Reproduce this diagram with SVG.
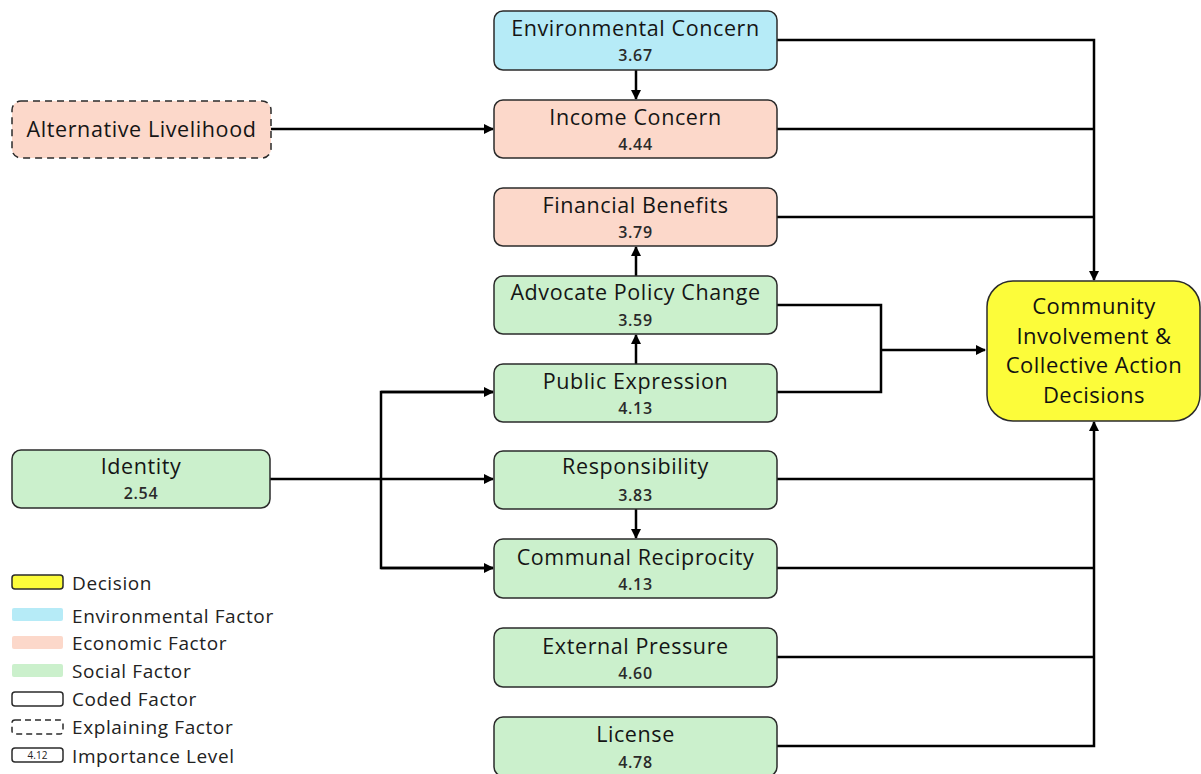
<svg xmlns="http://www.w3.org/2000/svg" width="1201" height="774" viewBox="0 0 1201 774">
<style>
.box{stroke:#2b2b2b;stroke-width:1.5}
.env{fill:#b6ebf7}
.eco{fill:#fcd8ca}
.soc{fill:#cbf0cc}
.dec{fill:#fcfc3a}
.dash{stroke-dasharray:7 5}
.t{font-family:"Open Sans","Liberation Sans",sans-serif;font-size:21.5px;letter-spacing:0.6px;fill:#151515;text-anchor:middle}
.v{font-family:"Open Sans","Liberation Sans",sans-serif;font-size:16px;letter-spacing:0.7px;font-weight:600;fill:#2a2a2a;text-anchor:middle}
.d{font-family:"Open Sans","Liberation Sans",sans-serif;font-size:22px;letter-spacing:0.5px;font-weight:500;fill:#111;text-anchor:middle}
.lg{font-family:"Open Sans","Liberation Sans",sans-serif;font-size:19px;letter-spacing:0.6px;fill:#222}
.c{fill:none;stroke:#000;stroke-width:2.5}
</style>
<defs>
<marker id="ah" viewBox="0 0 10 10" refX="9" refY="5" markerWidth="4" markerHeight="4" orient="auto" markerUnits="strokeWidth">
<path d="M0,0 L10,5 L0,10 z" fill="#000"/>
</marker>
</defs>

<g id="connectors">
<polyline class="c" points="777,40 1094,40 1094,280" marker-end="url(#ah)"/>
<line class="c" x1="777" y1="129" x2="1094" y2="129"/>
<line class="c" x1="777" y1="217" x2="1094" y2="217"/>
<polyline class="c" points="777,746 1094,746 1094,422" marker-end="url(#ah)"/>
<line class="c" x1="777" y1="479" x2="1094" y2="479"/>
<line class="c" x1="777" y1="568" x2="1094" y2="568"/>
<line class="c" x1="777" y1="657" x2="1094" y2="657"/>
<polyline class="c" points="777,305 881,305 881,392 777,392"/>
<line class="c" x1="881" y1="350" x2="985" y2="350" marker-end="url(#ah)"/>
<line class="c" x1="271" y1="129" x2="493" y2="129" marker-end="url(#ah)"/>
<line class="c" x1="270" y1="479" x2="493" y2="479" marker-end="url(#ah)"/>
<polyline class="c" points="493,392 381,392 381,568 493,568"/>
<line class="c" x1="381" y1="392" x2="493" y2="392" marker-end="url(#ah)"/>
<line class="c" x1="381" y1="568" x2="493" y2="568" marker-end="url(#ah)"/>
<line class="c" x1="636" y1="70" x2="636" y2="99" marker-end="url(#ah)"/>
<line class="c" x1="636" y1="276" x2="636" y2="247" marker-end="url(#ah)"/>
<line class="c" x1="636" y1="364" x2="636" y2="335" marker-end="url(#ah)"/>
<line class="c" x1="636" y1="509" x2="636" y2="538" marker-end="url(#ah)"/>
</g>

<g id="environmental-concern">
<rect class="box env" x="494" y="11" width="283" height="59" rx="9"/>
<text class="t" x="635.5" y="36">Environmental Concern</text>
<text class="v" x="635.5" y="61">3.67</text>
</g>
<g id="income-concern">
<rect class="box eco" x="494" y="100" width="283" height="58" rx="9"/>
<text class="t" x="635.5" y="125">Income Concern</text>
<text class="v" x="635.5" y="150">4.44</text>
</g>
<g id="financial-benefits">
<rect class="box eco" x="494" y="188" width="283" height="58" rx="9"/>
<text class="t" x="635.5" y="213">Financial Benefits</text>
<text class="v" x="635.5" y="238">3.79</text>
</g>
<g id="advocate-policy-change">
<rect class="box soc" x="494" y="276" width="283" height="58" rx="9"/>
<text class="t" x="635.5" y="300">Advocate Policy Change</text>
<text class="v" x="635.5" y="326">3.59</text>
</g>
<g id="public-expression">
<rect class="box soc" x="494" y="364" width="283" height="58" rx="9"/>
<text class="t" x="635.5" y="389">Public Expression</text>
<text class="v" x="635.5" y="414">4.13</text>
</g>
<g id="responsibility">
<rect class="box soc" x="494" y="451" width="283" height="58" rx="9"/>
<text class="t" x="635.5" y="474">Responsibility</text>
<text class="v" x="635.5" y="501">3.83</text>
</g>
<g id="communal-reciprocity">
<rect class="box soc" x="494" y="539" width="283" height="59" rx="9"/>
<text class="t" x="635.5" y="565">Communal Reciprocity</text>
<text class="v" x="635.5" y="590">4.13</text>
</g>
<g id="external-pressure">
<rect class="box soc" x="494" y="628" width="283" height="59" rx="9"/>
<text class="t" x="635.5" y="654">External Pressure</text>
<text class="v" x="635.5" y="679">4.60</text>
</g>
<g id="license">
<rect class="box soc" x="494" y="717" width="283" height="59" rx="9"/>
<text class="t" x="635.5" y="742">License</text>
<text class="v" x="635.5" y="768">4.78</text>
</g>
<g id="alternative-livelihood">
<rect class="box eco dash" x="12" y="101" width="259" height="57" rx="9"/>
<text class="t" x="141.5" y="137">Alternative Livelihood</text>
</g>
<g id="identity">
<rect class="box soc" x="12" y="450" width="258" height="58" rx="9"/>
<text class="t" x="141" y="474">Identity</text>
<text class="v" x="141" y="499">2.54</text>
</g>
<g id="decision">
<rect class="box dec" x="987" y="281" width="213" height="140" rx="26"/>
<text class="d" x="1094" y="314">Community</text>
<text class="d" x="1094" y="344">Involvement &amp;</text>
<text class="d" x="1094" y="373">Collective Action</text>
<text class="d" x="1094" y="403">Decisions</text>
</g>

<g id="legend">
<rect class="box dec" x="12" y="575" width="51" height="14" rx="3"/>
<text class="lg" x="72" y="590">Decision</text>
<rect class="env" x="12" y="608" width="51" height="13" rx="2"/>
<text class="lg" x="72" y="623">Environmental Factor</text>
<rect class="eco" x="12" y="636" width="51" height="13" rx="2"/>
<text class="lg" x="72" y="650">Economic Factor</text>
<rect class="soc" x="12" y="664" width="51" height="13" rx="2"/>
<text class="lg" x="72" y="678">Social Factor</text>
<rect class="box" fill="#fff" x="12" y="692" width="51" height="14" rx="3"/>
<text class="lg" x="72" y="706">Coded Factor</text>
<rect class="box" fill="#fff" stroke-dasharray="6 4" x="12" y="720" width="51" height="14" rx="3"/>
<text class="lg" x="72" y="734">Explaining Factor</text>
<rect class="box" fill="#fff" x="12" y="748" width="51" height="14" rx="3"/>
<text x="37.5" y="759" font-family="Open Sans, Liberation Sans, sans-serif" font-size="10px" fill="#222" text-anchor="middle">4.12</text>
<text class="lg" x="72" y="763">Importance Level</text>
</g>
</svg>
